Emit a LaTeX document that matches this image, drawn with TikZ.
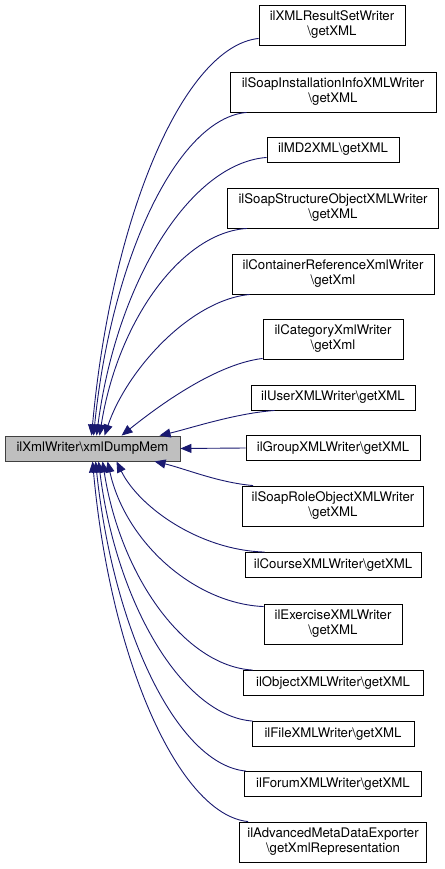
\documentclass[tikz,border=0pt]{standalone}
\usepackage{fontspec}
\setmainfont{TeX Gyre Heros}
\usetikzlibrary{arrows.meta,calc}
\definecolor{edgeblue}{HTML}{191970}
\definecolor{maingray}{HTML}{BFBFBF}
\begin{document}
\begin{tikzpicture}[x=1pt,y=-1pt,
  box/.style={draw=black, line width=0.9pt, fill=white, inner sep=0pt, align=center,
    font=\fontsize{13.2}{15}\selectfont, text=black},
  two/.style={minimum height=40pt},
  one/.style={minimum height=25pt},
  edge/.style={draw=edgeblue, line width=0.9pt, -{Triangle[length=11pt,width=9pt]}},
]
\fill[white] (0,0) rectangle (444,869);
\useasboundingbox (0,0) rectangle (444,869);

\node[box,one,fill=maingray,draw=black!75,minimum width=175pt] (m) at (92.5,448.5) {ilXmlWriter\textbackslash xmlDumpMem};

\node[box,two,minimum width=146pt] (r1) at (332,25) {ilXMLResultSetWriter\\\textbackslash getXML};
\node[box,two,minimum width=206pt] (r2) at (333,92) {ilSoapInstallationInfoXMLWriter\\\textbackslash getXML};
\node[box,one,minimum width=132pt] (r3) at (333,149.5) {ilMD2XML\textbackslash getXML};
\node[box,two,minimum width=211pt] (r4) at (333,208) {ilSoapStructureObjectXMLWriter\\\textbackslash getXML};
\node[box,two,minimum width=202pt] (r5) at (333,274) {ilContainerReferenceXmlWriter\\\textbackslash getXml};
\node[box,two,minimum width=140pt] (r6) at (333,339) {ilCategoryXmlWriter\\\textbackslash getXml};
\node[box,one,minimum width=164pt] (r7) at (333,397.5) {ilUserXMLWriter\textbackslash getXML};
\node[box,one,minimum width=174pt] (r8) at (333,448) {ilGroupXMLWriter\textbackslash getXML};
\node[box,two,minimum width=181pt] (r9) at (333,506) {ilSoapRoleObjectXMLWriter\\\textbackslash getXML};
\node[box,one,minimum width=176pt] (r10) at (333,565) {ilCourseXMLWriter\textbackslash getXML};
\node[box,two,minimum width=138pt] (r11) at (333,624) {ilExerciseXMLWriter\\\textbackslash getXML};
\node[box,one,minimum width=180pt] (r12) at (333,683) {ilObjectXMLWriter\textbackslash getXML};
\node[box,one,minimum width=162pt] (r13) at (333,734) {ilFileXMLWriter\textbackslash getXML};
\node[box,one,minimum width=177pt] (r14) at (333,784) {ilForumXMLWriter\textbackslash getXML};
\node[box,two,minimum width=187pt] (r15) at (333,842) {ilAdvancedMetaDataExporter\\\textbackslash getXmlRepresentation};

\draw[edge] ($(r1.south west)+(0,-7)$) .. controls +(-75,8) and +(20,-219) .. ($(m.north west)+(87,0)$);
\draw[edge] ($(r2.south west)+(17,0)$) .. controls +(-69,6) and +(18,-178) .. ($(m.north west)+(89,0)$);
\draw[edge] ($(r3.south west)+(0,-5)$) .. controls +(-77,6) and +(20,-153) .. ($(m.north west)+(92,0)$);
\draw[edge] ($(r4.south west)+(20,0)$) .. controls +(-66,4) and +(18,-114) .. ($(m.north west)+(95,0)$);
\draw[edge] ($(r5.south west)+(18,0)$) .. controls +(-60,6) and +(22,-65) .. ($(m.north west)+(100,0)$);
\draw[edge] ($(r6.south west)+(0,-1)$) .. controls +(-50,6) and +(30,-24) .. ($(m.north west)+(117,0)$);
\draw[edge] ($(r7.south west)+(24,0)$) .. controls +(-40,3) and +(30,-7) .. ($(m.north west)+(155,0)$);
\draw[edge] (r8.west) -- (m.east);
\draw[edge] ($(r9.north west)+(11,0)$) .. controls +(-35,-3) and +(30,7) .. ($(m.south west)+(150,0)$);
\draw[edge] ($(r10.north west)+(20,0)$) .. controls +(-66,-2) and +(22,45) .. ($(m.south west)+(112,0)$);
\draw[edge] ($(r11.north west)+(0,3)$) .. controls +(-69,-3) and +(18,81) .. ($(m.south west)+(103,0)$);
\draw[edge] ($(r12.north west)+(10,0)$) .. controls +(-68,-4) and +(18,115) .. ($(m.south west)+(98,0)$);
\draw[edge] ($(r13.north west)+(1,0)$) .. controls +(-69,-5) and +(18,144) .. ($(m.south west)+(94,0)$);
\draw[edge] ($(r14.north west)+(2,0)$) .. controls +(-68,-6) and +(18,171) .. ($(m.south west)+(91,0)$);
\draw[edge] ($(r15.north west)+(9,0)$) .. controls +(-69,-7) and +(18,199) .. ($(m.south west)+(88,0)$);
\end{tikzpicture}
\end{document}
